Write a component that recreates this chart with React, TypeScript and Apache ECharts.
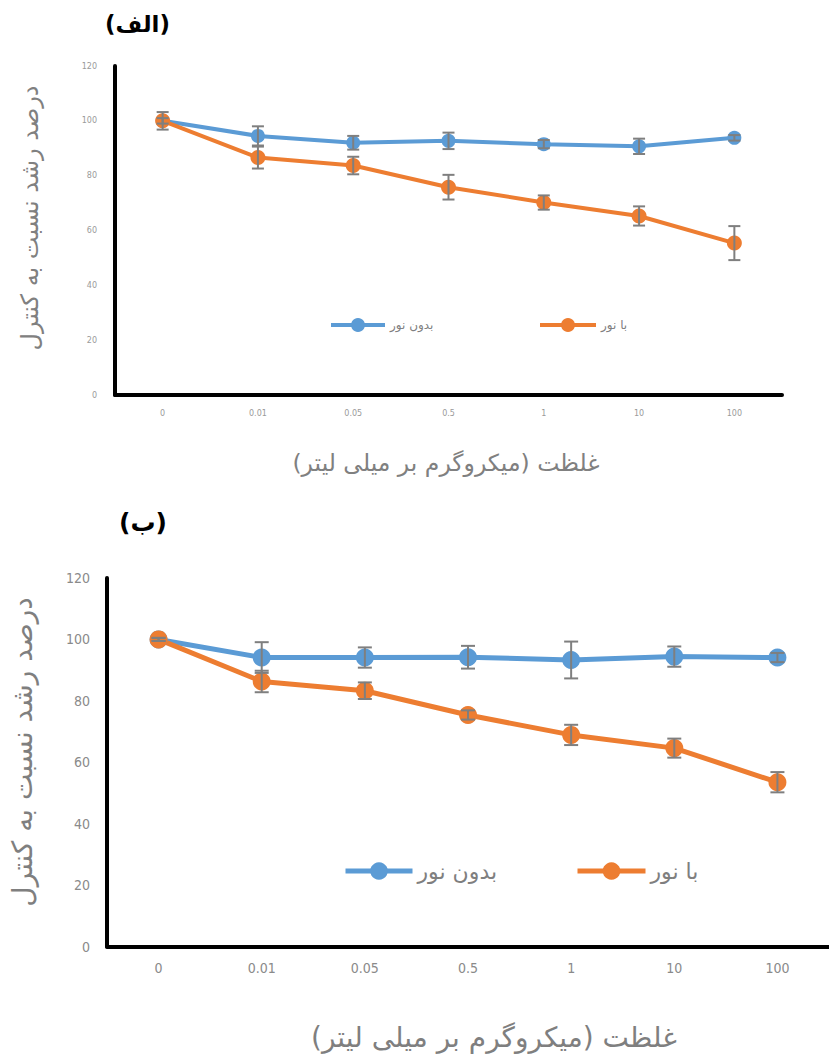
import React, { useEffect, useRef } from "react";
import * as echarts from "echarts";

const categories = ["0", "0.01", "0.05", "0.5", "1", "10", "100"];

const topDark = [100, 94.5, 92, 92.7, 91.5, 90.7, 93.8];
const topDarkErr = [1, 3.5, 2.5, 3, 1.5, 2.8, 1];
const topLight = [100, 86.6, 83.7, 75.8, 70.2, 65.3, 55.4];
const topLightErr = [3.2, 4, 3.2, 4.5, 2.6, 3.5, 6.2];

const bottomDark = [100, 94.1, 94.1, 94.2, 93.3, 94.4, 94.1];
const bottomDarkErr = [0.5, 5, 3.3, 3.7, 6, 3.3, 1.5];
const bottomLight = [100, 86.3, 83.3, 75.4, 68.9, 64.6, 53.5];
const bottomLightErr = [0.5, 3.5, 2.7, 1.5, 3.3, 3.1, 3.3];

const seriesNames = ["بدون نور", "با نور"];
const titles = ["(الف)", "(ب)"];
const yName = "درصد رشد نسبت به کنترل";
const xName = "غلظت (میکروگرم بر میلی لیتر)\u200F";

const BLUE = "#5B9BD5";
const ORANGE = "#ED7D31";
const ERR = "#7F7F7F";
const FA = "'DejaVu Sans', 'Noto Sans', sans-serif";

function errData(vals: number[], errs: number[]) {
  return vals.map((v, i) => [i, v - errs[i], v + errs[i]]);
}

function errSeries(idx: number, vals: number[], errs: number[], cap: number, lw: number) {
  return {
    type: "custom",
    xAxisIndex: idx,
    yAxisIndex: idx,
    z: 5,
    data: errData(vals, errs),
    encode: { x: 0, y: [1, 2] },
    renderItem: (params: any, api: any) => {
      const x = api.value(0);
      const lo = api.coord([x, api.value(1)]);
      const hi = api.coord([x, api.value(2)]);
      const style = { stroke: ERR, lineWidth: lw };
      return {
        type: "group",
        children: [
          { type: "line", shape: { x1: lo[0], y1: lo[1], x2: hi[0], y2: hi[1] }, style },
          { type: "line", shape: { x1: lo[0] - cap, y1: lo[1], x2: lo[0] + cap, y2: lo[1] }, style },
          { type: "line", shape: { x1: hi[0] - cap, y1: hi[1], x2: hi[0] + cap, y2: hi[1] }, style },
        ],
      };
    },
  };
}

function lineSeries(idx: number, name: string, vals: number[], color: string, lw: number, size: number) {
  return {
    type: "line",
    name,
    xAxisIndex: idx,
    yAxisIndex: idx,
    data: vals,
    symbol: "circle",
    symbolSize: size,
    z: 3,
    lineStyle: { color, width: lw },
    itemStyle: { color },
  };
}

export default function App() {
  const ref = useRef<HTMLDivElement>(null);
  useEffect(() => {
    if (!ref.current) return;
    const chart = echarts.init(ref.current, undefined, { renderer: "svg" });
    const axisLine = { show: true, lineStyle: { color: "#000", width: 4 } };
    const option: any = {
      animation: false,
      backgroundColor: "#fff",
      title: [
        { text: titles[0], left: 105, top: 12, padding: 0, textStyle: { fontFamily: FA, fontWeight: "bold", fontSize: 23, color: "#000" } },
        { text: titles[1], left: 119, top: 510, padding: 0, textStyle: { fontFamily: FA, fontWeight: "bold", fontSize: 25, color: "#000" } },
      ],
      legend: [
        {
          data: [seriesNames[0]], left: 329, top: 318, padding: 0, itemWidth: 54, itemHeight: 17.5, itemGap: 5,
          lineStyle: { width: 4 }, textStyle: { fontFamily: FA, fontSize: 12, color: "#808080" },
        },
        {
          data: [seriesNames[1]], left: 538, top: 318, padding: 0, itemWidth: 56, itemHeight: 17.5,
          lineStyle: { width: 4 }, textStyle: { fontFamily: FA, fontSize: 12, color: "#808080" },
        },
        {
          data: [seriesNames[0]], left: 343, top: 860, padding: 0, itemWidth: 67, itemHeight: 22,
          lineStyle: { width: 5 }, textStyle: { fontFamily: FA, fontSize: 22, color: "#7f7f7f" },
        },
        {
          data: [seriesNames[1]], left: 575, top: 860, padding: 0, itemWidth: 68, itemHeight: 22,
          lineStyle: { width: 5 }, textStyle: { fontFamily: FA, fontSize: 22, color: "#7f7f7f" },
        },
      ],
      grid: [
        { left: 115, top: 66, width: 667, height: 329 },
        { left: 107, top: 578, width: 730, height: 368.5 },
      ],
      xAxis: [
        {
          type: "category", gridIndex: 0, data: categories, boundaryGap: true,
          axisLine, axisTick: { show: false },
          axisLabel: { margin: 14, fontSize: 8, color: "#9a9a9a", fontFamily: "'DejaVu Sans'" },
        },
        {
          type: "category", gridIndex: 1, data: categories, boundaryGap: true,
          axisLine, axisTick: { show: false },
          axisLabel: { margin: 14, fontSize: 14, color: "#8a8a8a", fontFamily: "'Liberation Sans Narrow', 'DejaVu Sans Condensed', 'Liberation Sans'" },
        },
      ],
      yAxis: [
        {
          type: "value", gridIndex: 0, min: 0, max: 120, interval: 20,
          axisLine, axisTick: { show: false }, splitLine: { show: false },
          axisLabel: { margin: 18, fontSize: 8, color: "#9a9a9a", fontFamily: "'DejaVu Sans'" },
        },
        {
          type: "value", gridIndex: 1, min: 0, max: 120, interval: 20,
          axisLine, axisTick: { show: false }, splitLine: { show: false },
          axisLabel: { margin: 17, fontSize: 14, color: "#8a8a8a", fontFamily: "'Liberation Sans Narrow', 'DejaVu Sans Condensed', 'Liberation Sans'" },
        },
      ],
      graphic: [
        {
          type: "text", x: 30, y: 218, rotation: Math.PI / 2,
          style: { text: yName, fontFamily: FA, fontSize: 24, fill: "#808080", align: "center", verticalAlign: "middle" },
        },
        {
          type: "text", x: 22, y: 752, rotation: Math.PI / 2,
          style: { text: yName, fontFamily: FA, fontSize: 28, fill: "#7f7f7f", align: "center", verticalAlign: "middle" },
        },
        {
          type: "text", x: 446, y: 463,
          style: { text: xName, fontFamily: FA, fontSize: 23.5, fill: "#808080", align: "center", verticalAlign: "middle" },
        },
        {
          type: "text", x: 494, y: 1037,
          style: { text: xName, fontFamily: FA, fontSize: 28, fill: "#7f7f7f", align: "center", verticalAlign: "middle" },
        },
      ],
      series: [
        lineSeries(0, seriesNames[0], topDark, BLUE, 4, 14),
        lineSeries(0, seriesNames[1], topLight, ORANGE, 4, 15),
        errSeries(0, topDark, topDarkErr, 6, 2),
        errSeries(0, topLight, topLightErr, 6, 2),
        lineSeries(1, seriesNames[0], bottomDark, BLUE, 5, 18),
        lineSeries(1, seriesNames[1], bottomLight, ORANGE, 5, 18),
        errSeries(1, bottomDark, bottomDarkErr, 7, 2),
        errSeries(1, bottomLight, bottomLightErr, 7, 2),
      ],
    };
    chart.setOption(option);
    return () => chart.dispose();
  }, []);
  return (
    <div
      ref={ref}
      style={{ position: "absolute", left: 0, top: 0, width: 829, height: 1057 }}
    />
  );
}
